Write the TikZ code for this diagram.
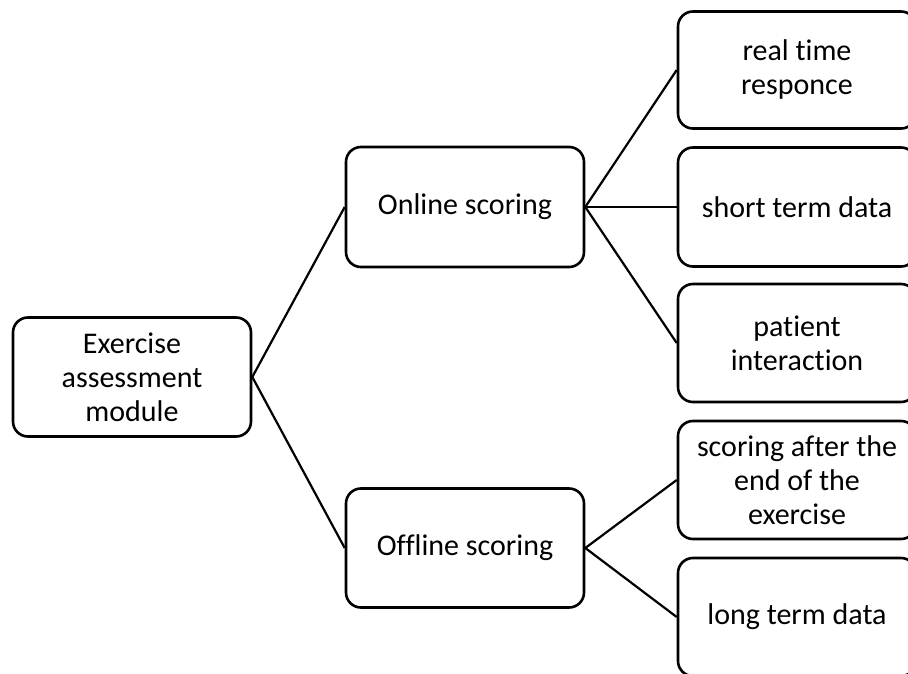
\documentclass[tikz,border=0pt]{standalone}
\usepackage{fontspec}
\setmainfont{Carlito}[Ligatures=NoCommon]
\usepackage{tikz}

\tikzset{
  box/.style={draw, line width=2.6pt, rounded corners=15pt, minimum width=238pt,
    align=center, inner sep=2pt, font=\fontsize{30}{34}\selectfont},
  link/.style={line width=2.2pt}
}

\begin{document}
\begin{tikzpicture}[x=1pt, y=-1pt]
  \useasboundingbox (0,0) rectangle (908,674);
  \clip (0,0) rectangle (908,674);

  % root and branches
  \node[box, minimum height=119pt] (exercise) at (132,377) {Exercise\\assessment\\module};
  \node[box, minimum height=120pt] (online) at (465,207) {Online scoring};
  \node[box, minimum height=119pt] (offline) at (465,548) {Offline scoring};

  % leaves
  \node[box, minimum height=117pt] (realtime) at (797,70) {real time\\responce};
  \node[box, minimum height=119pt] (shortterm) at (797,207) {short term data};
  \node[box, minimum height=118pt] (patient) at (797,343) {patient\\interaction};
  \node[box, minimum height=118pt] (after) at (797,480) {scoring after the\\end of the\\exercise};
  \node[box, minimum height=118pt] (longterm) at (797,617) {long term data};

  % connectors
  \draw[link] (exercise.east) -- (online.west);
  \draw[link] (exercise.east) -- (offline.west);
  \foreach \leaf in {realtime, shortterm, patient}
    \draw[link] (online.east) -- (\leaf.west);
  \foreach \leaf in {after, longterm}
    \draw[link] (offline.east) -- (\leaf.west);

\end{tikzpicture}
\end{document}
